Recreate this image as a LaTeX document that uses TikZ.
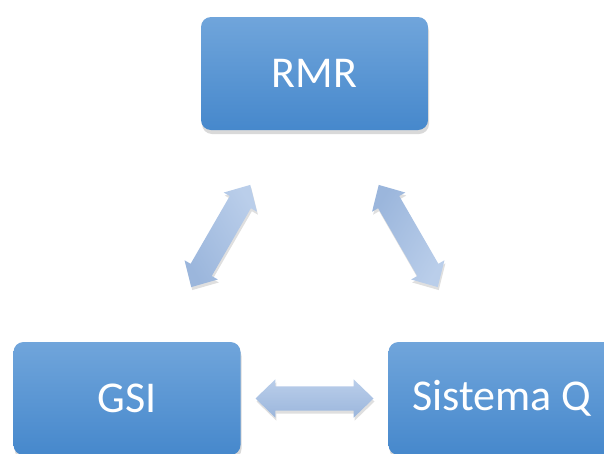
\documentclass[tikz,border=0pt]{standalone}
\usepackage{fontspec}
\setmainfont{Carlito}
\usetikzlibrary{shapes.arrows,shadows,calc}

\begin{document}
\begin{tikzpicture}[x=1pt,y=-1pt,
  sysbox/.style={rectangle,rounded corners=10pt,minimum width=227pt,minimum height=113pt,
    top color=boxtop,bottom color=boxbottom,text=white,font=\fontsize{44}{52}\selectfont,
    drop shadow={shadow xshift=1pt,shadow yshift=-4pt,opacity=.3}},
  linkarrow/.style={double arrow,inner xsep=0pt,inner ysep=12pt,minimum height=118pt,minimum width=38pt,
    double arrow head extend=7pt,double arrow tip angle=88,
    top color=arrowtop,bottom color=arrowbottom,
    drop shadow={shadow xshift=1pt,shadow yshift=-3pt,opacity=.25}}]
\definecolor{boxtop}{HTML}{70A5DB}
\definecolor{boxbottom}{HTML}{4688CC}
\definecolor{arrowtop}{HTML}{BACEEA}
\definecolor{arrowbottom}{HTML}{9BB6DC}
\useasboundingbox (0,0) rectangle (604,453);
\clip (0,0) rectangle (604,453);
  \foreach \nm/\txt/\px/\py in {rmr/RMR/314.5/73.5,gsi/GSI/127/398.5,sq/Sistema Q/502/398.5}
  {  \node [sysbox] (\nm) at (\px,\py) {\txt};}
\node [linkarrow,rotate=60,shading angle=-60] (a1) at ($(rmr)!.5!(gsi)$) {};
\node [linkarrow,rotate=120,shading angle=-120] (a2) at ($(rmr)!.5!(sq)$) {};
\node [linkarrow] (a3) at ($(gsi)!.5!(sq)$) {};
\end{tikzpicture}
\end{document}
